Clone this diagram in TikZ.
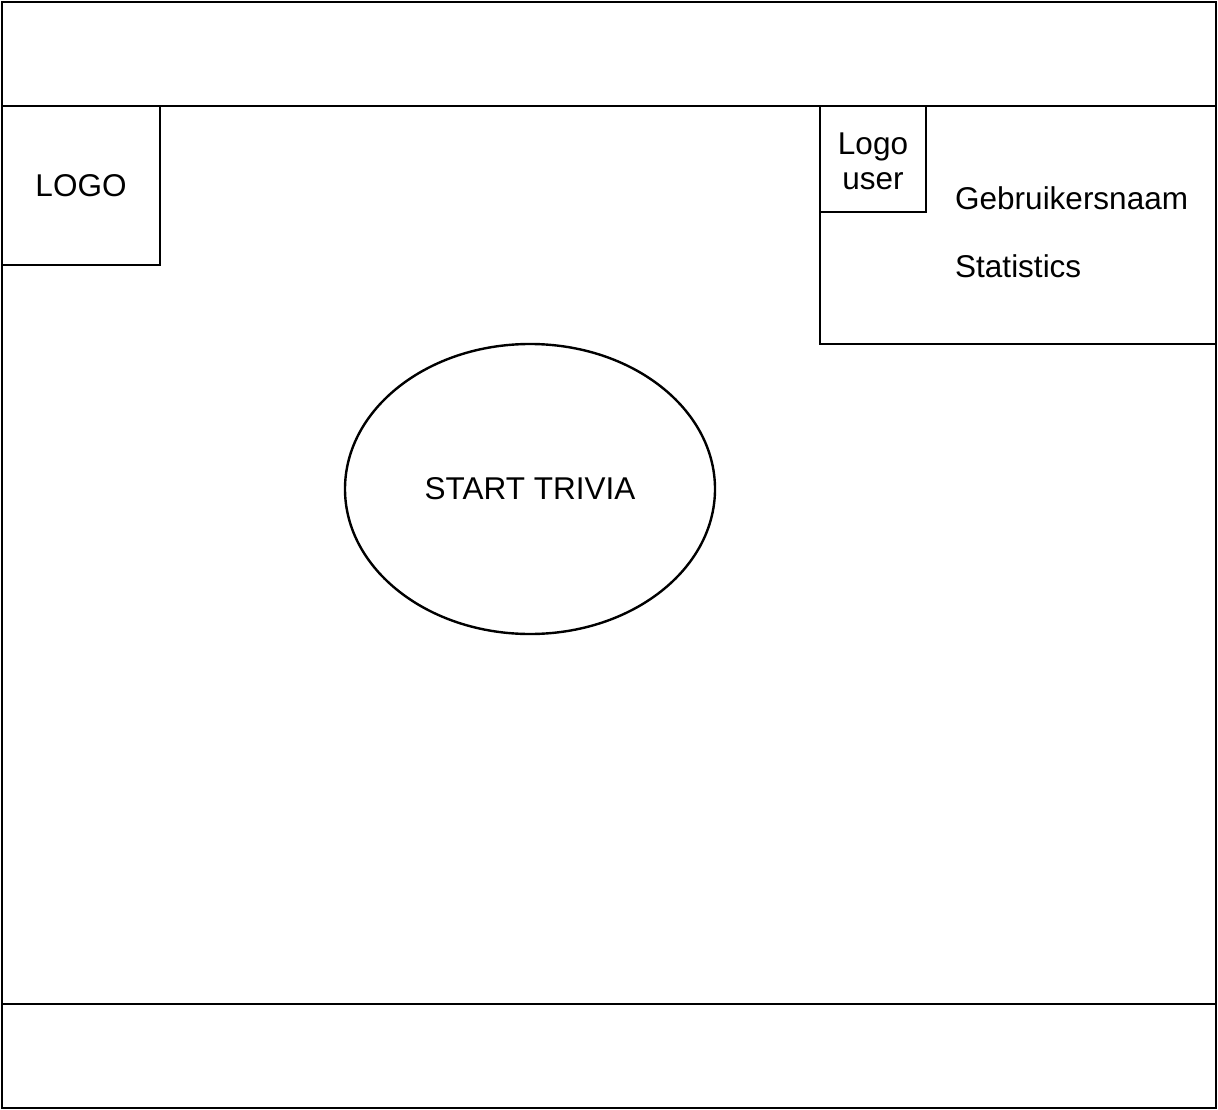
\documentclass[tikz,border=0pt]{standalone}
\usepackage{fontspec}
\setmainfont{Liberation Sans}
\usetikzlibrary{shapes.geometric}
\begin{document}
\begin{tikzpicture}[x=1pt,y=-1pt,
  frame/.style={draw=black,line width=2.4pt},
  box/.style={frame,rectangle,inner sep=0pt,outer sep=0pt},
  lbl/.style={inner sep=0pt,font=\fontsize{31.5}{35}\selectfont},
]
\useasboundingbox[fill=white] (0,0) rectangle (1218,1110);
% page outline with header and footer bands
\node[box,minimum width=1214,minimum height=1106] (page) at (609,555) {};
\coordinate (hl) at (2,106);  \coordinate (hr) at (1216,106);
\coordinate (fl) at (2,1004); \coordinate (fr) at (1216,1004);
\draw[frame] (hl) -- (hr);
\draw[frame] (fl) -- (fr);
% site logo
\node[box,lbl,minimum width=158,minimum height=159] (logo) at (81,185.5) {LOGO};
% user panel
\node[box,minimum width=396,minimum height=238] (user) at (1018,225) {};
\node[box,minimum width=106,minimum height=106] (ulogo) at (873,159) {};
\node[lbl,align=center] (ulogotext) at (873,161) {Logo\\user};
\node[lbl,anchor=base west] (uname) at (955,210) {Gebruikersnaam};
\node[lbl,anchor=base west] (stats) at (955,277) {Statistics};
% start button
\node[frame,ellipse,lbl,minimum width=370,minimum height=290] (start) at (530,489) {START TRIVIA};
\end{tikzpicture}
\end{document}
